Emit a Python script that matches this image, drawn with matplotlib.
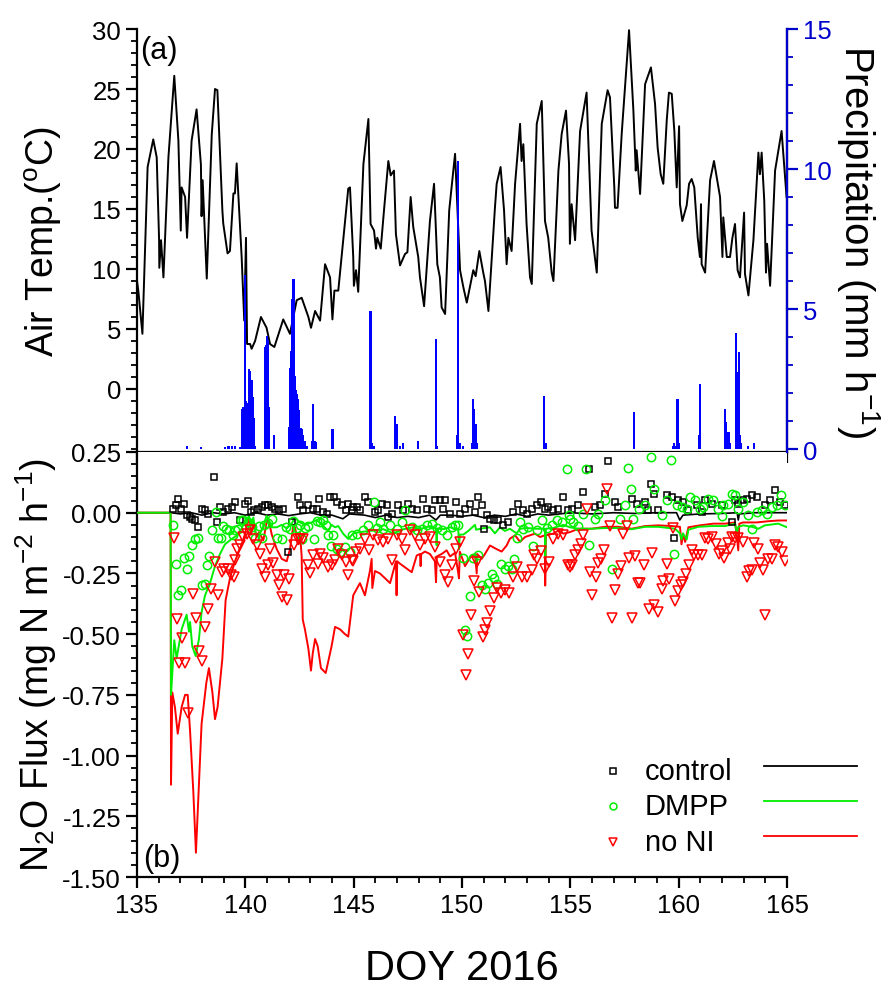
import matplotlib
matplotlib.use("Agg")
import matplotlib.pyplot as plt
from matplotlib.ticker import MultipleLocator, FormatStrFormatter, FixedLocator

plt.rcParams['font.family'] = ['Liberation Sans', 'DejaVu Sans']
plt.rcParams['mathtext.fontset'] = 'custom'
plt.rcParams['mathtext.rm'] = 'Liberation Sans'
plt.rcParams['mathtext.it'] = 'Liberation Sans'

# ---------------- data ----------------
temp_doy = [135.0, 135.06, 135.25, 135.49, 135.75, 135.91, 136.02, 136.03, 136.11, 136.22, 136.45, 136.72,
            136.91, 137.02, 137.06, 137.22, 137.31, 137.52, 137.75, 137.95, 137.98, 138.03, 138.22, 138.45,
            138.6, 138.71, 138.94, 138.98, 139.18, 139.29, 139.45, 139.52, 139.6, 139.83, 139.95, 140.03,
            140.08, 140.22, 140.29, 140.45, 140.72, 140.98, 141.14, 141.34, 141.75, 142.06, 142.37, 142.6,
            142.91, 143.03, 143.22, 143.45, 143.68, 143.91, 144.02, 144.11, 144.29, 144.75,
            144.83, 144.98, 145.01, 145.11, 145.21, 145.45, 145.68, 145.78, 145.94, 146.03, 146.09, 146.25,
            146.41, 146.6, 146.71, 146.86, 146.95, 147.14, 147.37, 147.48, 147.63, 147.75, 147.98, 148.06,
            148.25, 148.52, 148.71, 148.86, 148.98, 149.06, 149.22, 149.41, 149.68, 149.83, 149.91, 150.06,
            150.22, 150.52, 150.63, 150.8, 150.98, 151.06, 151.22, 151.52, 151.6, 151.78, 151.94, 152.06,
            152.14, 152.29, 152.45, 152.68, 152.75, 152.83, 152.98, 153.14, 153.22, 153.45, 153.68, 153.83,
            153.98, 154.14, 154.22, 154.45, 154.6, 154.8,
            154.94, 154.98, 155.06, 155.22, 155.45, 155.75, 155.98, 156.22, 156.45, 156.72, 156.83, 157.03,
            157.06, 157.18, 157.37, 157.71, 157.91, 158.02, 158.06, 158.22, 158.45, 158.72, 158.91, 159.03,
            159.17, 159.29, 159.45, 159.55, 159.68, 159.8, 159.91, 160.02, 160.06, 160.17, 160.37, 160.48,
            160.6, 160.72, 160.88, 160.98, 161.03, 161.06, 161.22, 161.45, 161.63, 161.91, 162.02, 162.06,
            162.22, 162.37, 162.48, 162.6, 162.72, 162.83, 163.02, 163.06, 163.22, 163.45, 163.68, 163.75,
            163.83, 163.95, 164.03, 164.08, 164.22, 164.45, 164.75, 164.98]
temp_val = [9.0, 8.2, 4.6, 18.5, 20.8, 19.3, 12.4, 10.1, 12.4, 9.3, 19.3, 26.1,
            20.7, 13.2, 16.8, 16.0, 12.6, 20.7, 23.3, 18.7, 14.4, 17.4, 9.2, 21.2,
            25.0, 24.9, 14.9, 13.8, 11.3, 11.5, 16.3, 16.3, 18.8, 11.0, 5.7, 12.6,
            3.75, 3.75, 3.35, 4.0, 6.0, 5.1, 3.75, 3.5, 5.8, 4.6, 7.4, 7.6,
            6.0, 5.1, 6.5, 5.7, 10.4, 9.3, 5.8, 8.2, 8.2, 16.7,
            16.8, 11.0, 8.6, 9.9, 8.1, 18.75, 22.5, 13.75, 13.2, 11.7, 12.6, 11.7,
            15.1, 19.0, 17.8, 18.2, 12.9, 10.3, 11.25, 11.4, 16.0, 13.5, 11.0, 9.3,
            6.9, 14.0, 17.1, 10.4, 9.3, 6.8, 6.25, 14.9, 19.6, 13.2, 9.9, 8.5,
            7.2, 9.9, 9.4, 11.5, 9.7, 9.0, 6.5, 15.1, 17.1, 18.5, 14.9, 10.4,
            12.6, 11.5, 17.1, 22.1, 19.0, 20.4, 13.75, 9.3, 8.75, 22.1, 24.0, 14.0,
            12.6, 9.7, 9.0, 18.2, 21.25, 23.2,
            18.75, 12.1, 15.4, 12.4, 21.5, 24.7, 13.2, 9.7, 22.1, 24.9, 24.3, 16.8,
            15.1, 15.1, 21.25, 29.9, 23.2, 18.2, 19.9, 16.25, 25.4, 26.8, 23.75, 20.1,
            17.9, 17.1, 22.4, 24.7, 24.6, 21.5, 16.8, 21.9, 15.4, 14.0, 15.3, 17.1,
            17.5, 16.8, 12.6, 11.0, 15.4, 10.4, 9.7, 17.4, 19.0, 16.0, 11.0, 14.3,
            11.0, 11.0, 12.6, 13.75, 9.9, 9.3, 14.7, 9.6, 7.8, 12.4, 19.7, 17.9,
            19.7, 15.7, 9.7, 12.1, 8.6, 18.2, 21.5, 16.0]

rain_doy = [137.29, 137.94, 139.06, 139.22, 139.37, 139.52, 139.75, 139.86, 139.9, 139.98, 140.02, 140.07,
            140.17, 140.21, 140.25, 140.3, 140.34, 140.38, 140.42, 140.91, 140.95, 141.0, 141.04, 141.11,
            141.32, 142.02, 142.07, 142.11, 142.17, 142.22, 142.26, 142.3, 142.34, 142.38, 142.42, 142.46,
            142.5, 142.55, 142.6, 142.67, 142.75, 142.85, 143.06, 143.14, 143.2, 143.28, 144.02,
            145.78, 145.85, 145.95, 146.91, 146.98, 147.15, 147.29, 147.98, 148.8, 148.86, 149.79, 149.83,
            149.9, 150.05, 150.45, 150.52, 150.57, 150.62, 150.68, 153.78, 153.85,
            157.95, 159.72, 159.8, 159.9, 159.95, 160.02, 160.93, 160.98, 160.95, 162.15, 162.19, 162.24,
            162.29, 162.33, 162.38, 162.63, 162.68, 162.75, 162.8, 162.83, 162.88, 163.2, 163.48]
rain_val = [0.12, 0.07, 0.07, 0.1, 0.1, 0.1, 0.07, 1.43, 1.5, 6.2, 1.7, 1.65,
            2.86, 2.8, 2.4, 2.45, 1.85, 1.1, 0.1, 3.63, 3.7, 4.05, 3.9, 1.5,
            0.5, 0.8, 2.9, 3.5, 5.36, 6.07, 5.4, 2.6, 2.1, 1.96, 1.8, 1.4,
            0.7, 0.75, 0.7, 0.5, 0.3, 0.12, 0.3, 1.6, 0.3, 0.25, 0.7,
            4.94, 0.2, 0.1, 1.19, 0.9, 0.1, 0.2, 0.3, 3.93, 0.1, 0.5, 10.3,
            0.2, 0.1, 0.2, 1.79, 1.43, 0.9, 0.2, 1.9, 0.2,
            1.31, 0.1, 0.2, 0.1, 1.79, 0.2, 0.1, 2.32, 0.5, 1.43, 0.95, 0.6,
            0.6, 0.6, 0.2, 4.13, 0.3, 2.74, 3.46, 0.5, 0.2, 0.1, 0.2]

# measured fluxes (symbols)
ctrl_doy = [136.68, 136.78, 136.91, 137.03, 137.18, 137.29, 137.45, 137.55, 137.68, 137.80, 137.98, 138.14,
            138.26, 138.57, 138.68, 138.83, 138.98, 139.18, 139.37, 139.52, 139.75, 139.98, 140.14, 140.26,
            140.42, 140.60, 140.75, 140.91, 141.06, 141.22, 141.37, 141.55, 141.75, 141.98, 142.14, 142.42,
            142.52, 142.68, 142.91, 143.14, 143.29, 143.40, 143.60, 143.75, 143.91, 144.11, 144.22, 144.45,
            144.63, 144.75, 144.91, 144.98,
            145.14, 145.29, 145.52, 145.68, 145.98, 146.14, 146.29, 146.52, 146.60, 146.75, 147.06, 147.29,
            147.52, 147.68, 147.91, 148.21, 148.37, 148.60, 148.75, 148.98, 149.11, 149.21, 149.45, 149.72,
            149.91, 150.14, 150.37, 150.60, 150.75, 150.91, 151.03, 151.14, 151.29, 151.48, 151.68, 151.91,
            152.14, 152.37, 152.60, 152.83, 152.98, 153.22, 153.45, 153.63, 153.83, 153.98, 154.21, 154.45,
            154.68, 154.91,
            155.06, 155.37, 155.60, 155.86, 156.14, 156.37, 156.60, 156.75, 157.06, 157.22, 157.83, 158.06,
            158.45, 158.60, 158.72, 158.88, 159.06, 159.45, 159.68, 159.77, 159.98, 160.22, 160.45, 160.83,
            161.06, 161.22, 161.52, 161.98, 162.45, 162.60, 162.75, 162.98, 163.14, 163.37, 163.60, 163.98,
            164.22, 164.45, 164.68, 164.91]
ctrl_flux = [0.016, 0.030, 0.058, 0.016, 0.037, -0.011, -0.018, -0.025, -0.032, -0.059, 0.016, 0.010,
             -0.004, 0.147, -0.038, 0.023, 0.003, 0.016, 0.023, 0.044, -0.032, 0.037, 0.047, 0.003,
             0.010, 0.016, 0.023, 0.030, 0.030, 0.023, 0.016, 0.010, 0.016, -0.162, -0.038, 0.064,
             0.030, 0.010, 0.030, 0.016, 0.016, 0.058, 0.003, -0.004, 0.064, 0.064, 0.044, 0.030,
             0.010, 0.037, 0.010, 0.023,
             0.023, 0.010, 0.064, 0.044, 0.003, 0.010, 0.037, 0.030, -0.018, -0.004, 0.030, 0.010,
             0.037, 0.016, 0.010, 0.058, 0.016, 0.010, 0.051, 0.051, 0.016, 0.051, -0.004, 0.044,
             -0.004, 0.016, 0.037, 0.003, 0.064, 0.030, -0.066, -0.011, -0.025, -0.032, -0.032, -0.052,
             -0.038, 0.003, 0.037, 0.010, -0.004, 0.016, 0.030, 0.044, 0.016, 0.023, 0.010, 0.016,
             0.064, 0.010,
             0.016, 0.030, 0.085, 0.178, 0.023, 0.030, 0.078, 0.215, 0.044, 0.023, 0.058, 0.037,
             0.044, 0.010, 0.119, 0.078, 0.010, 0.071, 0.064, -0.104, 0.051, 0.044, 0.010, 0.030,
             0.003, 0.051, 0.037, 0.030, -0.038, 0.051, 0.037, 0.051, 0.058, 0.071, 0.064, 0.030,
             0.051, 0.092, 0.044, 0.030]

dmpp_doy = [136.68, 136.78, 136.91, 137.03, 137.18, 137.29, 137.40, 137.55, 137.68, 137.80, 137.98, 138.14,
            138.22, 138.32, 138.48, 138.63, 138.75, 138.88, 138.98, 139.09, 139.25, 139.45, 139.52, 139.65,
            139.80, 139.91, 140.14, 140.29, 140.45, 140.63, 140.75, 140.88, 141.03, 141.22, 141.45, 141.68,
            141.86, 142.06, 142.22, 142.37, 142.52, 142.63, 142.75, 142.91, 143.18, 143.29, 143.45, 143.60,
            143.71, 143.83, 143.95, 144.06, 144.22, 144.37, 144.60, 144.83,
            144.91, 145.14, 145.45, 145.68, 145.94, 146.06, 146.21, 146.37, 146.68, 146.98, 147.21, 147.37,
            147.68, 147.91, 148.14, 148.37, 148.60, 148.83, 149.06, 149.29, 149.52, 149.68, 149.83, 150.03,
            150.14, 150.25, 150.37, 150.49, 150.75, 150.91, 151.06, 151.21, 151.37, 151.48, 151.60, 151.78,
            151.98, 152.14, 152.29, 152.40, 152.52, 152.68, 152.83, 153.06, 153.29, 153.45, 153.68, 153.91,
            154.14, 154.37, 154.60, 154.83, 154.95,
            154.98, 155.14, 155.37, 155.60, 155.71, 155.86, 156.14, 156.29, 156.60, 156.91, 157.29, 157.52,
            157.68, 157.80, 157.91, 158.17, 158.45, 158.72, 158.88, 159.22, 159.45, 159.65, 159.80, 159.91,
            160.14, 160.37, 160.52, 160.75, 160.98, 161.14, 161.37, 161.60, 161.83, 161.98, 162.06, 162.29,
            162.45, 162.60, 162.75, 162.98, 163.22, 163.37, 163.60, 163.83, 164.06, 164.29, 164.52, 164.72,
            164.91]
dmpp_flux = [-0.052, -0.213, -0.337, -0.320, -0.187, -0.230, -0.178, -0.134, -0.107, -0.104, -0.296, -0.292,
             -0.217, -0.180, -0.073, 0.005, -0.104, -0.104, -0.056, -0.066, -0.073, -0.093, -0.073, -0.066,
             -0.032, -0.032, -0.038, -0.059, -0.104, -0.055, -0.104, -0.052, -0.041, -0.025, -0.104, -0.107,
             -0.059, -0.066, -0.036, -0.063, -0.052, -0.107, -0.063, -0.055, -0.107, -0.036, -0.038, -0.032,
             -0.052, -0.090, -0.137, -0.093, -0.148, -0.162, -0.141, -0.162,
             -0.093, -0.086, -0.073, -0.049, 0.044, -0.063, -0.038, -0.066, -0.049, -0.069, -0.038, 0.010,
             -0.059, -0.073, -0.066, -0.049, -0.045, -0.063, -0.073, -0.093, -0.059, -0.049, -0.052, -0.187,
             -0.484, -0.507, -0.343, -0.187, -0.173, -0.296, -0.313, -0.288, -0.251, -0.269, -0.292, -0.210,
             -0.230, -0.220, -0.230, -0.190, -0.104, -0.038, -0.066, -0.059, -0.137, -0.073, -0.032, -0.063,
             -0.052, -0.032, -0.038, 0.181, -0.011,
             -0.025, -0.038, -0.055, -0.004, 0.178, -0.134, -0.025, -0.004, 0.051, -0.233, -0.025, 0.030,
             0.184, 0.096, -0.025, 0.016, 0.030, 0.229, 0.099, -0.008, 0.051, 0.219, -0.169, 0.033,
             0.023, 0.016, 0.064, 0.051, 0.016, 0.023, 0.058, 0.051, 0.016, -0.014, 0.030, 0.037,
             0.078, 0.071, 0.016, 0.044, -0.011, -0.066, 0.003, 0.010, -0.004, 0.023, 0.030, 0.071,
             0.030]

noni_doy = [136.72, 136.83, 136.94, 137.09, 137.21, 137.34, 137.60, 137.71, 137.86, 137.98, 138.14, 138.26,
            138.42, 138.60, 138.75, 138.91, 139.03, 139.18, 139.34, 139.49, 139.52, 139.60, 139.75, 139.91,
            140.06, 140.22, 140.37, 140.52, 140.68, 140.75, 140.91, 141.03, 141.14, 141.29, 141.45, 141.55,
            141.68, 141.91, 141.80, 142.02, 142.26, 142.42, 142.52, 142.68, 142.88, 142.98, 143.14, 143.34,
            143.45, 143.60, 143.80, 143.98, 144.14, 144.26, 144.45, 144.63, 144.75, 144.91,
            144.95, 145.11, 145.29, 145.52, 145.72, 145.91, 146.14, 146.37, 146.60, 146.75, 146.98, 147.21,
            147.37, 147.60, 147.83, 148.06, 148.29, 148.52, 148.75, 148.98, 149.21, 149.37, 149.52, 149.72,
            149.91, 150.06, 150.18, 150.29, 150.40, 150.55, 150.68, 150.80, 150.95, 151.06, 151.17, 151.29,
            151.48, 151.60, 151.78, 151.98, 152.18, 152.37, 152.52, 152.75, 152.98, 153.22, 153.32, 153.48,
            153.63, 153.83, 154.03, 154.21, 154.45, 154.68, 154.91,
            154.98, 155.09, 155.22, 155.37, 155.49, 155.60, 155.75, 155.91, 156.02, 156.17, 156.29, 156.42,
            156.57, 156.68, 156.83, 156.94, 157.06, 157.22, 157.34, 157.45, 157.60, 157.71, 157.86, 157.98,
            158.11, 158.22, 158.42, 158.63, 158.78, 158.88, 159.03, 159.22, 159.29, 159.45, 159.55, 159.75,
            159.83, 159.98, 160.11, 160.22, 160.32, 160.48, 160.60, 160.72, 160.88, 161.06, 161.22, 161.37,
            161.52, 161.71, 161.86, 161.98, 162.11, 162.26, 162.37, 162.45, 162.60, 162.75, 162.98, 163.14,
            163.25, 163.37, 163.49, 163.65, 163.75, 163.91, 163.98, 164.14, 164.29, 164.45, 164.60, 164.75,
            164.91]
noni_flux = [-0.104, -0.436, -0.617, -0.516, -0.617, -0.823, -0.333, -0.433, -0.571, -0.612, -0.471, -0.398,
             -0.313, -0.203, -0.337, -0.244, -0.230, -0.230, -0.255, -0.265, -0.196, -0.148, -0.134, -0.100,
             -0.086, -0.073, -0.107, -0.134, -0.169, -0.230, -0.265, -0.217, -0.148, -0.206, -0.258, -0.296,
             -0.347, -0.361, -0.258, -0.274, -0.134, -0.110, -0.107, -0.107, -0.214, -0.247, -0.176, -0.210,
             -0.169, -0.187, -0.224, -0.217, -0.196, -0.148, -0.176, -0.203, -0.258, -0.196,
             -0.200, -0.162, -0.148, -0.107, -0.155, -0.093, -0.114, -0.121, -0.107, -0.196, -0.093, -0.107,
             -0.155, -0.073, -0.093, -0.134, -0.107, -0.100, -0.141, -0.203, -0.258, -0.285, -0.214, -0.148,
             -0.121, -0.502, -0.667, -0.580, -0.420, -0.283, -0.203, -0.327, -0.512, -0.484, -0.453, -0.406,
             -0.351, -0.310, -0.330, -0.320, -0.330, -0.265, -0.224, -0.265, -0.265, -0.237, -0.176, -0.192,
             -0.159, -0.233, -0.203, -0.107, -0.086, -0.093, -0.217,
             -0.224, -0.214, -0.176, -0.155, -0.128, -0.093, 0.016, -0.244, -0.337, -0.265, -0.206, -0.192,
             -0.155, 0.099, -0.055, -0.433, -0.320, -0.251, -0.220, -0.086, -0.055, -0.187, -0.433, -0.178,
             -0.288, -0.288, -0.214, -0.398, -0.165, -0.379, -0.409, -0.313, -0.280, -0.210, -0.274, -0.063,
             -0.365, -0.324, -0.299, -0.285, -0.251, -0.214, -0.155, -0.176, -0.173, -0.173, -0.104, -0.107,
             -0.100, -0.128, -0.169, -0.159, -0.187, -0.124, -0.148, -0.100, -0.104, -0.104, -0.121, -0.265,
             -0.241, -0.237, -0.124, -0.148, -0.206, -0.237, -0.420, -0.192, -0.192, -0.132, -0.141, -0.162,
             -0.200]

# modelled fluxes (lines)
ctrl_mod_doy = [135.0, 136.57, 137.0, 137.5, 138.0, 138.5, 139.0, 139.5, 140.0, 140.5, 141.0, 141.5, 142.0,
                142.5, 143.0, 143.5, 144.0, 144.5, 144.8, 145.5, 146.0, 146.5, 147.0, 147.5, 148.0, 148.5,
                148.8, 149.0, 149.5, 150.0, 150.5, 151.0, 151.5, 152.0, 152.5, 153.0, 153.5, 154.0, 154.5,
                155.0, 156.0, 157.0, 158.0, 159.0, 159.9, 160.05, 160.2, 161.0, 162.0, 162.7, 162.75, 162.8,
                163.5, 164.0, 165.0]
ctrl_mod = [0.0, 0.0, -0.005, 0.0, -0.01, 0.0, -0.005, 0.0, -0.01, 0.0, -0.01, -0.005, -0.012,
            -0.005, 0.0, -0.01, -0.01, -0.025, -0.005, -0.01, -0.02, -0.01, -0.02, -0.015, -0.02, -0.01,
            -0.03, -0.01, -0.01, -0.015, -0.01, -0.02, -0.01, -0.015, -0.005, -0.015, -0.005, -0.01, -0.005,
            0.0, -0.005, 0.0, -0.003, 0.0, 0.0, -0.03, -0.01, -0.005, -0.003, 0.0, -0.03, -0.005,
            0.0, 0.0, 0.0]

dmpp_mod_doy = [135.0, 136.55, 136.57, 136.72, 136.83, 137.06, 137.29, 137.40, 137.45, 137.55, 137.71, 137.86,
                137.98, 138.14, 138.37, 138.6, 138.83, 139.06, 139.37, 139.68, 139.91, 140.06, 140.17, 140.26,
                140.37, 140.48, 140.68, 140.79, 140.98, 141.06, 141.22, 141.45, 141.68, 141.91, 142.14, 142.29,
                142.52, 142.75, 143.06, 143.29, 143.60, 143.83, 143.98, 144.14, 144.29, 144.52, 144.75,
                144.98, 145.29, 145.75, 146.37, 146.83, 147.29, 147.75, 148.06, 148.52, 148.80, 148.83,
                148.86, 149.14, 149.45, 149.83, 149.86, 149.90, 150.06, 150.29, 150.60, 150.65, 150.91,
                151.29, 151.52, 151.75, 151.98, 152.21, 152.52, 152.68, 152.98, 153.45, 153.83, 153.84, 153.87,
                154.21, 154.68, 154.98, 155.37, 155.98, 156.60, 157.22, 157.83, 158.45, 159.06, 159.83,
                160.06, 160.13, 160.20, 160.37, 160.45, 160.91, 161.52, 162.14, 162.60, 162.68, 162.75,
                162.98, 163.37, 163.68, 163.98, 164.60, 165.0]
dmpp_mod = [0.0, 0.0, -0.75, -0.525, -0.60, -0.48, -0.42, -0.49, -0.45, -0.55, -0.59, -0.52,
            -0.41, -0.34, -0.29, -0.22, -0.17, -0.13, -0.108, -0.09, -0.05, -0.03, -0.013, -0.05,
            -0.02, -0.09, -0.085, -0.065, -0.013, -0.025, -0.06, -0.06, -0.05, -0.065, -0.045, -0.02,
            -0.04, -0.05, -0.04, -0.03, -0.055, -0.075, -0.05, -0.06, -0.055, -0.087, -0.108,
            -0.085, -0.08, -0.075, -0.068, -0.085, -0.068, -0.06, -0.068, -0.055, -0.065, -0.134,
            -0.065, -0.068, -0.06, -0.07, -0.15, -0.09, -0.09, -0.075, -0.05, -0.07, -0.065,
            -0.06, -0.085, -0.06, -0.075, -0.066, -0.085, -0.066, -0.063, -0.066, -0.066, -0.18, -0.066,
            -0.063, -0.05, -0.06, -0.066, -0.066, -0.063, -0.063, -0.068, -0.058, -0.058, -0.066,
            -0.085, -0.11, -0.085, -0.11, -0.07, -0.058, -0.055, -0.055, -0.045, -0.085, -0.058,
            -0.052, -0.058, -0.066, -0.052, -0.045, -0.06]

noni_mod_doy = [135.0, 136.55, 136.57, 136.63, 136.75, 136.88, 137.06, 137.22, 137.34, 137.45, 137.60, 137.72,
                137.86, 137.98, 138.2, 138.32, 138.48, 138.6, 138.72, 138.83, 138.94, 139.09, 139.29, 139.52,
                139.75, 139.98, 140.11, 140.17, 140.26, 140.37, 140.52, 140.63, 140.83, 140.98, 141.06, 141.22,
                141.45, 141.68, 141.91, 142.06, 142.22, 142.29, 142.45, 142.52, 142.60, 142.65, 142.75, 142.91,
                143.03, 143.11, 143.22, 143.34, 143.49, 143.71, 143.98, 144.14, 144.37, 144.60, 144.75, 144.98,
                145.29, 145.52, 145.75, 145.83, 145.86, 145.98, 146.21, 146.45, 146.68, 146.83, 146.95,
                146.98, 147.01, 147.14, 147.45, 147.68, 147.91, 148.06, 148.09, 148.12, 148.29, 148.52,
                148.75, 148.80, 148.84, 149.06, 149.29, 149.45, 149.68, 149.83, 149.86, 149.90, 150.14,
                150.37, 150.60, 150.68, 150.70, 150.91, 151.06, 151.29, 151.60, 151.83, 152.06, 152.21,
                152.45, 152.68, 152.91, 153.14, 153.37, 153.60, 153.83, 153.84, 153.87, 154.21, 154.45,
                154.68, 154.98, 155.37, 155.98, 156.60, 157.22, 157.83, 158.45, 159.06, 159.68, 160.06,
                160.13, 160.20, 160.30, 160.45, 160.98, 161.60, 162.14, 162.60, 162.68, 162.75, 162.80,
                162.98, 163.60, 164.14, 164.60, 165.0]
noni_mod = [0.0, 0.0, -1.12, -0.74, -0.80, -0.91, -0.80, -0.75, -0.75, -0.90, -1.15, -1.40,
            -1.11, -0.87, -0.70, -0.64, -0.74, -0.85, -0.80, -0.70, -0.60, -0.36, -0.27, -0.20,
            -0.15, -0.09, -0.035, -0.025, -0.09, -0.04, -0.10, -0.08, -0.114, -0.04, -0.025, -0.09,
            -0.15, -0.19, -0.20, -0.15, -0.05, -0.06, -0.13, -0.08, -0.18, -0.44, -0.48, -0.56,
            -0.65, -0.58, -0.52, -0.55, -0.64, -0.66, -0.55, -0.47, -0.48, -0.50, -0.51, -0.34,
            -0.29, -0.34, -0.24, -0.19, -0.31, -0.24, -0.25, -0.27, -0.29, -0.24, -0.20,
            -0.34, -0.20, -0.21, -0.23, -0.245, -0.176, -0.17, -0.22, -0.17, -0.16, -0.17,
            -0.20, -0.286, -0.18, -0.17, -0.155, -0.18, -0.165, -0.25, -0.27, -0.16, -0.22,
            -0.185, -0.17, -0.25, -0.17, -0.19, -0.17, -0.135, -0.15, -0.16, -0.135, -0.107,
            -0.093, -0.12, -0.10, -0.093, -0.086, -0.10, -0.093, -0.30, -0.093, -0.086, -0.073,
            -0.086, -0.08, -0.066, -0.066, -0.058, -0.058, -0.066, -0.055, -0.052, -0.055, -0.058,
            -0.13, -0.09, -0.12, -0.06, -0.052, -0.045, -0.045, -0.04, -0.09, -0.155, -0.045,
            -0.04, -0.04, -0.035, -0.032, -0.032]

# ---------------- figure ----------------
fig = plt.figure(figsize=(8.83, 9.87), dpi=100)
L, W = 137/883, 650/883
ax1 = fig.add_axes([L, 1-453/987, W, 423/987])
ax3 = fig.add_axes([L, 1-878/987, W, 425/987])
ax2 = ax1.twinx()

blue = '#0000ff'
tick_fs = 18.5
lab_fs = 27

# top panel: temperature
ax1.plot(temp_doy, temp_val, color='black', lw=1.4)
ax1.set_xlim(135, 165)
ax1.set_ylim(-5.25, 30)
ax1.yaxis.set_major_locator(FixedLocator([0, 5, 10, 15, 20, 25, 30]))
ax1.yaxis.set_minor_locator(MultipleLocator(1))
ax1.xaxis.set_major_locator(MultipleLocator(5))
ax1.xaxis.set_minor_locator(MultipleLocator(1))
ax1.tick_params(axis='x', labelbottom=False)
ax1.set_ylabel('Air Temp.($^{\\mathrm{o}}$C)', fontsize=lab_fs, labelpad=20)
ax1.text(0.005, 0.985, '(a)', transform=ax1.transAxes, fontsize=22, va='top', ha='left')

# precipitation
ax2.bar(rain_doy, rain_val, width=0.1, color=blue, linewidth=0, align='center')
ax2.set_ylim(-0.107, 15)
ax2.yaxis.set_major_locator(MultipleLocator(5))
ax2.yaxis.set_minor_locator(MultipleLocator(1))
ax2.set_ylabel('Precipitation (mm h$^{\\mathrm{-1}}$)', fontsize=29, rotation=270, labelpad=36)
ax2.tick_params(axis='y', which='both', colors='#0000cc', labelcolor='#0000cc')
ax2.spines['right'].set_color('#0000cc')

for a in (ax1, ax2):
    a.spines['top'].set_visible(False)
ax2.spines['left'].set_visible(False)
ax2.spines['bottom'].set_visible(False)

# bottom panel: fluxes
ax3.plot(ctrl_mod_doy, ctrl_mod, color='black', lw=1.2, zorder=3)
ax3.plot(noni_mod_doy, noni_mod, color='#ff0000', lw=1.4, zorder=3)
ax3.plot(dmpp_mod_doy, dmpp_mod, color='#00ee00', lw=1.4, zorder=4)
ax3.plot(ctrl_doy, ctrl_flux, 's', mfc='none', mec='black', ms=5, mew=1.1, zorder=5)
ax3.plot(dmpp_doy, dmpp_flux, 'o', mfc='none', mec='#00ee00', ms=6, mew=1.1, zorder=5)
ax3.plot(noni_doy, noni_flux, 'v', mfc='none', mec='#ff0000', ms=7, mew=1.1, zorder=5)
ax3.set_xlim(135, 165)
ax3.set_ylim(-1.5, 0.25)
ax3.yaxis.set_major_locator(MultipleLocator(0.25))
ax3.yaxis.set_minor_locator(MultipleLocator(0.05))
ax3.yaxis.set_major_formatter(FormatStrFormatter('%.2f'))
ax3.xaxis.set_major_locator(MultipleLocator(5))
ax3.xaxis.set_minor_locator(MultipleLocator(1))
ax3.spines['top'].set_visible(False)
ax3.spines['right'].set_visible(False)
ax3.set_ylabel('N$_{\\mathrm{2}}$O Flux (mg N m$^{\\mathrm{-2}}$ h$^{\\mathrm{-1}}$)', fontsize=lab_fs, labelpad=2)
ax3.set_xlabel('DOY 2016', fontsize=30, labelpad=22)
ax3.text(0.01, 0.01, '(b)', transform=ax3.transAxes, fontsize=22, va='bottom', ha='left')

for a in (ax1, ax2, ax3):
    a.tick_params(which='major', direction='out', length=8, width=1.6, labelsize=tick_fs)
    a.tick_params(which='minor', direction='out', length=4.5, width=1.3)
    for s in a.spines.values():
        s.set_linewidth(1.6)

# legend (marker | label | line)
rows = [('control', 's', 'black', 5, 0.249, 0.262),
        ('DMPP', 'o', '#00ee00', 5, 0.167, 0.180),
        ('no NI', 'v', '#ff0000', 6, 0.082, 0.097)]
for lab, mk, col, ms, yy, yl in rows:
    ax3.plot([0.732], [yy], mk, mfc='none', mec=col, ms=ms, mew=1.1,
             transform=ax3.transAxes, clip_on=False)
    ax3.text(0.7815, yy, lab, transform=ax3.transAxes, fontsize=21, va='center', ha='left')
    ax3.plot([0.965, 1.108], [yl, yl], color=col, lw=1.3, transform=ax3.transAxes, clip_on=False)

fig.savefig('out.png', dpi=100)
